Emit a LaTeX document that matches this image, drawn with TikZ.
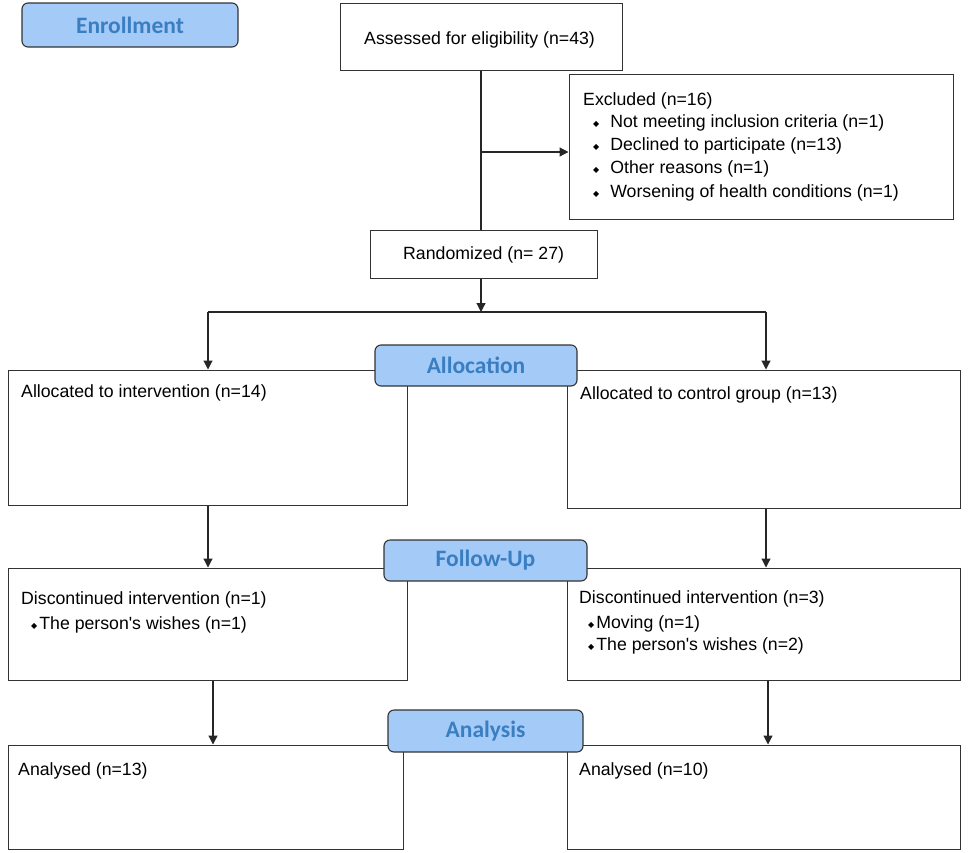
\documentclass[tikz,border=0pt]{standalone}
\usepackage{fontspec}
\setmainfont{Liberation Sans}
\newfontfamily\labelfont{Carlito}
\newfontfamily\dejavu{DejaVu Sans}
\usetikzlibrary{arrows.meta}
\definecolor{lblfill}{HTML}{A4CAF8}
\definecolor{lbltext}{HTML}{3A7EC2}
\definecolor{lineg}{HTML}{333333}
\newcommand{\bul}{\raisebox{1.5pt}{\dejavu\fontsize{8}{9}\selectfont ◆}}
\newcommand{\apos}{\textquotesingle}
\tikzset{
  box/.style={draw=lineg, line width=1pt, fill=white, inner sep=0pt},
  lbl/.style={draw=lineg, line width=1.1pt, fill=lblfill, rounded corners=6pt, inner sep=0pt,
    font=\labelfont\bfseries\fontsize{23.5}{26}\selectfont, text=lbltext},
  txt/.style={anchor=west, inner sep=0pt, font=\fontsize{17.7}{20}\selectfont},
  conn/.style={draw=black!85, line width=1.2pt},
  arr/.style={conn, -{Triangle[length=9pt,width=9pt]}}
}
\begin{document}
\begin{tikzpicture}[x=1pt,y=-1pt]
\useasboundingbox (0,0) rectangle (969,852);
% boxes
\node[lbl, minimum width=216, minimum height=44] (enr) at (130,25) {Enrollment};
\node[box, minimum width=282, minimum height=67] (ass) at (481,36.5) {};
\node[txt] (asst) at (364,40) {Assessed for eligibility (n=43)};
\node[box, minimum width=384, minimum height=145] (exc) at (761,146.5) {};
\node[txt] (exc0) at (583,101) {Excluded (n=16)};
\node[txt] (exc1) at (593,123) {\bul\hspace{11pt}Not meeting inclusion criteria (n=1)};
\node[txt] (exc2) at (593,146) {\bul\hspace{11pt}Declined to participate (n=13)};
\node[txt] (exc3) at (593,169) {\bul\hspace{11pt}Other reasons (n=1)};
\node[txt] (exc4) at (593,193) {\bul\hspace{11pt}Worsening of health conditions (n=1)};
\node[box, minimum width=227, minimum height=48] (ran) at (483.5,254) {};
\node[txt] (rant) at (403,255) {Randomized (n= 27)};
% allocation
\node[box, minimum width=399, minimum height=135] (al) at (207.5,437.5) {};
\node[txt] (alt) at (21,393) {Allocated to intervention (n=14)};
\node[box, minimum width=393, minimum height=138] (ar) at (763.5,439) {};
\node[txt] (art) at (580,395) {Allocated to control group (n=13)};
% follow-up
\node[box, minimum width=399, minimum height=112] (fl) at (207.5,624) {};
\node[txt] (flt) at (21,600) {Discontinued intervention (n=1)};
\node[txt] (flb) at (31,625) {\bul\hspace{2pt}The person\apos s wishes (n=1)};
\node[box, minimum width=393, minimum height=112] (fr) at (763.5,624) {};
\node[txt] (frt) at (579,599) {Discontinued intervention (n=3)};
\node[txt] (frb1) at (588,624) {\bul\hspace{2pt}Moving (n=1)};
\node[txt] (frb2) at (588,646) {\bul\hspace{2pt}The person\apos s wishes (n=2)};
% analysis
\node[box, minimum width=395, minimum height=104] (anl) at (205.5,797) {};
\node[txt] (anlt) at (18,771) {Analysed (n=13)};
\node[box, minimum width=393, minimum height=104] (anr) at (763.5,797) {};
\node[txt] (anrt) at (579,771) {Analysed (n=10)};
% connectors
\coordinate (jx) at (481,152);
\coordinate (sp) at (481,312);
\coordinate (spl) at (208,312);
\coordinate (spr) at (766,312);
\draw[conn] (ass.south -| jx) -- (ran.north -| jx);
\draw[arr] (jx) -- (exc.west |- jx);
\draw[arr] (ran.south -| sp) -- (sp);
\draw[conn] (spl) -- (spr);
\draw[arr] (spl) -- (al.north -| spl);
\draw[arr] (spr) -- (ar.north -| spr);
\draw[arr] (al.south -| spl) -- (fl.north -| spl);
\draw[arr] (ar.south -| spr) -- (fr.north -| spr);
\coordinate (cl) at (213,680);
\coordinate (cr) at (768,680);
\draw[arr] (fl.south -| cl) -- (anl.north -| cl);
\draw[arr] (fr.south -| cr) -- (anr.north -| cr);
% section labels (drawn on top of lines)
\node[lbl, minimum width=202, minimum height=41] (allo) at (476,365.5) {Allocation};
\node[lbl, minimum width=203, minimum height=41] (fol) at (485.5,560.5) {Follow-Up};
\node[lbl, minimum width=195, minimum height=42] (ana) at (485.5,731) {Analysis};
\end{tikzpicture}
\end{document}
